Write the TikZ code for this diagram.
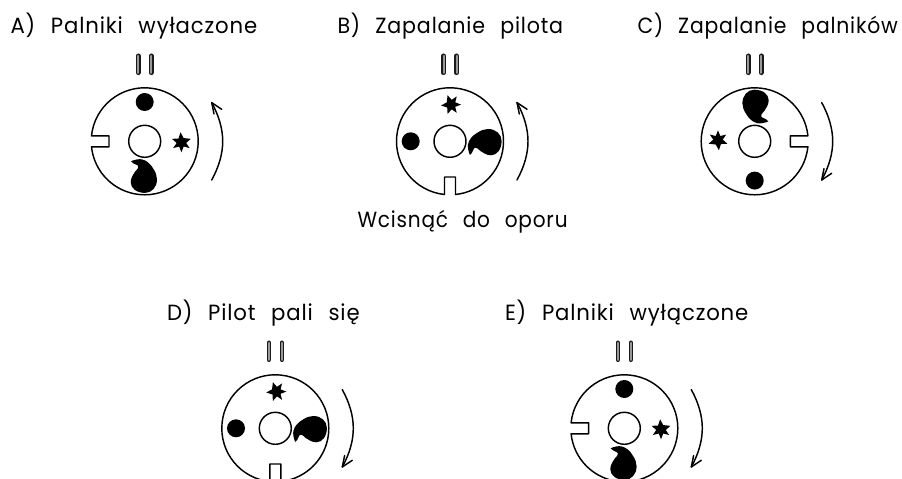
\documentclass[tikz,border=0pt]{standalone}
\usepackage{fontspec}
\setmainfont[LetterSpace=4,WordSpace=2.4]{Poppins}
\tikzset{
  x=1pt,y=1pt,
  lbl/.style={anchor=base west,inner sep=0pt,outer sep=0pt,font=\fontsize{22}{24}\selectfont},
  ln/.style={line width=1.45pt,black,line join=round,line cap=round},
  blob/.style={fill=black,draw=none}
}
\newcommand{\slits}{%
  \foreach \sx in {-6.5,6.5}{
    \draw[line width=4.6pt,line cap=round,black!90] (\sx,85.5) -- (\sx,68.5);
    \draw[line width=2pt,line cap=round,black!40] (\sx,85.5) -- (\sx,68.5);
  }}
\newcommand{\disc}[1]{%
  \begin{scope}[rotate=#1]
    \draw[ln] (-53.2,5.5) arc[start angle=174.1,end angle=-174.1,radius=53.5]
       -- (-35.7,-5.5) -- (-35.7,5.5) -- cycle;
    \draw[ln] (0,0) circle[radius=16];
    \fill[blob] (0,39.3) circle[radius=9];
    \fill[blob,shift={(36.7,-1)}] (95:10) -- (62:4.8) -- (20:10) -- (-8:4.8) -- (-35:10) -- (-62:4.8)
       -- (-90:10) -- (-118:4.8) -- (-145:10) -- (-172:4.8) -- (160:10) -- (128:4.8) -- cycle;
    \fill[blob] (-13.7,-19.9) .. controls (-10,-18.3) and (-6,-17.6) .. (-3,-18)
       .. controls (2,-19) and (6,-23) .. (8,-26.5)
       .. controls (11,-31) and (12.3,-34) .. (12.3,-38)
       .. controls (12.3,-46) and (7,-51.6) .. (0.3,-51.6)
       .. controls (-8,-51.6) and (-14,-47) .. (-14,-41)
       .. controls (-14,-36) and (-11,-33) .. (-9.7,-30.4)
       .. controls (-8,-28) and (-5.5,-26.8) .. (-6.4,-25)
       .. controls (-7,-23) and (-11,-23.5) .. (-13.7,-19.9) -- cycle;
  \end{scope}}
\newcommand{\arrowup}{%
  \draw[ln] (67,-38.7) .. controls (74.5,-25) and (78,-12) .. (78,0) .. controls (78,12) and (74.5,25) .. (67,38.7);
  \draw[ln] (77,32) -- (67,38.7) -- (69.3,27.3);}
\newcommand{\arrowdown}{%
  \draw[ln] (67,38.7) .. controls (74.5,25) and (78,12) .. (78,0) .. controls (78,-12) and (74.5,-25) .. (67,-38.7);
  \draw[ln] (77,-32) -- (67,-38.7) -- (69.3,-27.3);}
\begin{document}
\begin{tikzpicture}
\useasboundingbox (0,0) rectangle (902,479);
\clip (0,0) rectangle (902,479);
\fill[white] (0,0) rectangle (902,479);
\node[lbl,xscale=.965] (la) at (10.5,445.7) {A) Palniki wyłaczone};
\node[lbl,xscale=.937] (lb) at (337.5,445.7) {B) Zapalanie pilota};
\node[lbl,xscale=.925] (lc) at (637.5,445.7) {C) Zapalanie palników};
\node[lbl,xscale=.912] (lw) at (357.5,251.3) {Wcisnąć do oporu};
\node[lbl,xscale=.965] (ld) at (167,158.7) {D) Pilot pali się};
\node[lbl,xscale=.965] (le) at (505,158.7) {E) Palniki wyłączone};
\begin{scope}[shift={(144.7,337.7)}]\slits\disc{0}\arrowup\end{scope}
\begin{scope}[shift={(450,337.7)}]\slits\disc{90}\arrowup\end{scope}
\begin{scope}[shift={(754.7,337.7)}]\slits\disc{180}\arrowdown\end{scope}
\begin{scope}[shift={(275.3,50.7)}]\slits\disc{90}\arrowdown\end{scope}
\begin{scope}[shift={(624.3,50.7)}]\slits\disc{0}\arrowdown\end{scope}
\end{tikzpicture}
\end{document}
